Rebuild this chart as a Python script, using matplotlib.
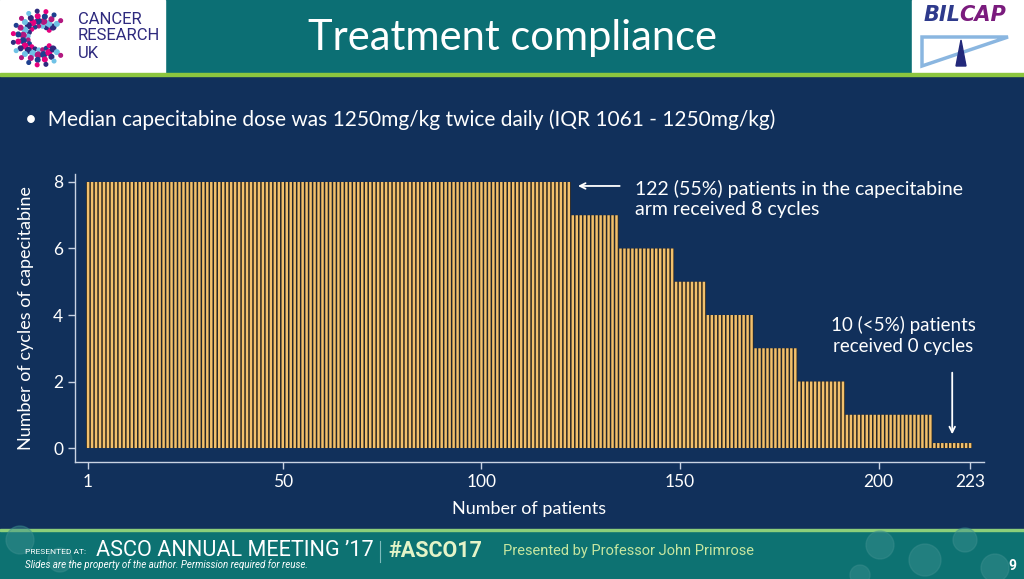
import numpy as np
import matplotlib
matplotlib.use("Agg")
import matplotlib.pyplot as plt
from matplotlib.patches import Rectangle, Polygon, Circle

# ---- data ----
cycle_levels = [8, 7, 6, 5, 4, 3, 2, 1, 0]
patients_per_level = [122, 12, 14, 8, 12, 11, 12, 22, 10]
x_ticks = [1, 50, 100, 150, 200, 223]
y_ticks = [0, 2, 4, 6, 8]

cycles = np.repeat(cycle_levels, patients_per_level)
patients = np.arange(1, len(cycles) + 1)
shown = np.maximum(cycles, 0.15)  # make zero-cycle bars visible

NAVY = "#11305b"
TEAL = "#0c6f74"
BAR = "#f2c06c"
GAP = "#2c261e"
FONT = "Lato"

W, H = 1024, 579
fig = plt.figure(figsize=(W / 100, H / 100), dpi=100)
fig.patch.set_facecolor(NAVY)

# ---- slide decorations in pixel coordinates ----
bg = fig.add_axes([0, 0, 1, 1], zorder=0)
bg.set_xlim(0, W)
bg.set_ylim(H, 0)
bg.axis("off")
bg.add_patch(Rectangle((0, 0), W, 74, color=TEAL))
bg.add_patch(Rectangle((0, 0), 165, 74, color="white"))
bg.add_patch(Rectangle((912, 0), 112, 74, color="white"))
bg.add_patch(Rectangle((0, 73), W, 3, color="#8cc63f"))
bg.add_patch(Rectangle((0, 530), W, 49, color="#0d7272"))
bg.add_patch(Rectangle((0, 529), W, 2, color="#8ccf7a"))
for cx, cy, r in [(880, 545, 14), (925, 560, 16), (965, 540, 12), (995, 568, 14),
                  (860, 575, 10), (20, 540, 14), (60, 560, 12)]:
    bg.add_patch(Circle((cx, cy), r, color="#3d8f8f", alpha=0.45))

# CRUK logo dots
cols = ["#e6007e", "#2e2a7e", "#6fc2e6", "#b2187f", "#1d3f8f"]
k = 0
for rr in [12, 17, 22, 27]:
    for ang in np.linspace(40, 320, 16):
        a = np.deg2rad(ang)
        bg.add_patch(Circle((40 + rr * np.cos(a), 38 - rr * np.sin(a)),
                            1.8 + (rr % 3) * 0.5, color=cols[k % 5]))
        k += 1
for i, word in enumerate(["CANCER", "RESEARCH", "UK"]):
    bg.text(78, 19 + 17 * i, word, fontsize=12, color="#2e2a7e", family="Roboto", va="center")

# BILCAP logo
bg.text(924, 15, "BIL", fontsize=15, color="#2e3a8c", family="DejaVu Sans",
        weight="bold", style="italic", va="center")
bg.text(959, 15, "CAP", fontsize=15, color="#7a1b7d", family="DejaVu Sans",
        weight="bold", style="italic", va="center")
bg.add_patch(Polygon([[922, 37], [1008, 37], [922, 66]], closed=True, fill=False,
                     edgecolor="#8ab6e0", lw=2.5))
bg.add_patch(Polygon([[956, 66], [961, 40], [966, 66]], closed=True, color="#22287a"))

bg.text(512, 38, "Treatment compliance", fontsize=30, color="white", family=FONT,
        ha="center", va="center")
bg.text(25, 120, "\u2022  Median capecitabine dose was 1250mg/kg twice daily (IQR 1061 - 1250mg/kg)",
        fontsize=15, color="white", family=FONT, va="center")

# footer
bg.text(25, 552, "PRESENTED AT:", fontsize=6, color="white", family="Roboto", va="center")
bg.text(96, 551, "ASCO ANNUAL MEETING \u201917", fontsize=15.6, color="white",
        family="Roboto", va="center")
bg.plot([380, 380], [541, 562], color="#7fbcbc", lw=0.8)
bg.text(388, 551, "#ASCO17", fontsize=15.5, color="#e4f4c8", family="Roboto",
        weight="bold", va="center")
bg.text(503, 551, "Presented by Professor John Primrose", fontsize=10.5,
        color="#c6e6a0", family="Roboto", va="center")
bg.text(25, 565, "Slides are the property of the author. Permission required for reuse.",
        fontsize=7, color="white", family="Roboto", style="italic", va="center")
bg.text(1012, 566, "9", fontsize=10, color="white", family="Roboto", weight="bold",
        ha="center", va="center")

# ---- chart ----
ax = fig.add_axes([75 / W, 1 - 462 / H, 909 / W, 288 / H], zorder=1)
ax.set_facecolor("none")
ax.bar(patients, shown, width=1.0, color=GAP, edgecolor="none", linewidth=0, snap=False)
ax.bar(patients, shown, width=0.62, color=BAR, edgecolor="none", linewidth=0, snap=False)
ax.set_xlim(-2.3, 226.5)
ax.set_ylim(-0.42, 8.24)
ax.set_xticks(x_ticks)
ax.set_yticks(y_ticks)
for s in ["top", "right"]:
    ax.spines[s].set_visible(False)
for s in ["left", "bottom"]:
    ax.spines[s].set_color("#c9d3e3")
    ax.spines[s].set_linewidth(1)
ax.tick_params(colors="#c9d3e3", length=5, width=1, labelcolor="white", labelsize=12.5)
for lab in ax.get_xticklabels() + ax.get_yticklabels():
    lab.set_family(FONT)
ax.set_xlabel("Number of patients", color="white", fontsize=13, family=FONT, labelpad=8)
ax.set_ylabel("Number of cycles of capecitabine", color="white", fontsize=13,
              family=FONT, labelpad=14)

ax.annotate("", xy=(123.6, 7.88), xytext=(135.5, 7.88),
            arrowprops=dict(arrowstyle="->", color="white", lw=1.3))
ax.text(138.7, 7.5, "122 (55%) patients in the capecitabine\narm received 8 cycles",
        color="white", fontsize=14, family=FONT, va="center", ha="left", linespacing=1.2)
ax.text(206.1, 3.38, "10 (<5%) patients\nreceived 0 cycles", color="white", fontsize=13.5,
        family=FONT, va="center", ha="center", linespacing=1.25)
ax.annotate("", xy=(218.5, 0.33), xytext=(218.5, 2.35),
            arrowprops=dict(arrowstyle="->", color="white", lw=1.3))

fig.savefig("out.png", dpi=100, facecolor=fig.get_facecolor())
